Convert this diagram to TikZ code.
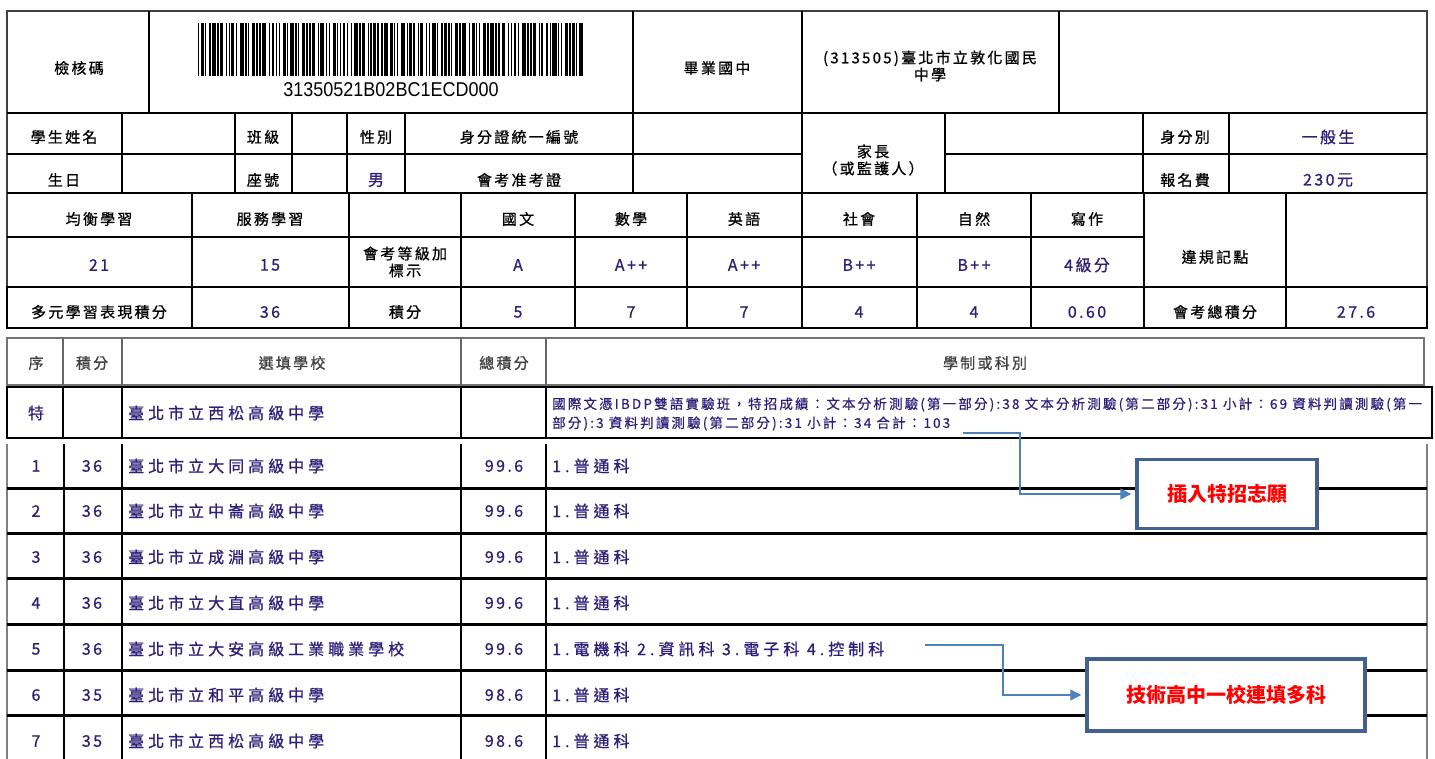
\documentclass[tikz,border=0pt]{standalone}
\usepackage{fontspec}
\usepackage{xcolor}
\usepackage{tikz}
\usetikzlibrary{arrows.meta}
\setmainfont{Noto Sans CJK TC}
\newfontfamily\cjk[LetterSpace=15,FakeBold=0.8]{Noto Sans CJK TC}
\newfontfamily\cjkrow[LetterSpace=25,FakeBold=0.8]{Noto Sans CJK TC}
\newfontfamily\cjknote[LetterSpace=16,FakeBold=0.5]{Noto Sans CJK TC}
\newfontfamily\barfont{Liberation Sans}
\definecolor{valblue}{HTML}{2C1F78}
\definecolor{hdrgray}{HTML}{404040}
\definecolor{calloutline}{HTML}{41618F}
\definecolor{arrowblue}{HTML}{4F81BD}

\begin{document}
\begin{tikzpicture}[x=1pt,y=-1pt]
		\tikzstyle{every node}=[inner sep=0pt, font=\cjk\fontsize{15}{17}\selectfont]
		\tikzstyle{val}=[text=valblue, font=\cjk\fontsize{16}{18}\selectfont]
		\tikzstyle{rowval}=[text=valblue, font=\cjkrow\fontsize{16}{18}\selectfont]
		\tikzstyle{hdr}=[text=hdrgray]
		\tikzstyle{rule}=[line width=1.2pt]
		\tikzstyle{heavyrule}=[line width=2.6pt]
		\tikzstyle{callout}=[draw=calloutline, line width=3.5pt, fill=white, text=red, font=\bfseries\fontsize{20}{22}\selectfont]
		\tikzstyle{pointer}=[draw=arrowblue, line width=1.4pt, shorten >=4pt, -{Triangle[length=11pt,width=11pt]}]

		\useasboundingbox (0,0) rectangle (1435,759);

		% upper table
		\draw [rule, draw=black!75] (7,11) rectangle (1427,328);
		\draw [rule] (7,113) to (1427,113);
		\draw [rule] (7,154) to (802,154);
		\draw [rule] (945,154) to (1427,154);
		\draw [heavyrule] (7,193) to (1427,193);
		\draw [rule] (7,237) to (1144,237);
		\draw [heavyrule] (7,287) to (1427,287);
		\draw [heavyrule] (7,328) to (1427,328);
		\draw [line width=2pt] (149,11) to (149,113);
		\draw [rule] (633,11) to (633,113);
		\draw [rule] (802,11) to (802,113);
		\draw [rule] (1059,11) to (1059,113);
		\draw [rule] (122,113) to (122,193);
		\draw [rule] (235,113) to (235,193);
		\draw [rule] (292,113) to (292,193);
		\draw [rule] (347,113) to (347,193);
		\draw [rule] (405,113) to (405,193);
		\draw [rule] (633,113) to (633,193);
		\draw [rule] (802,113) to (802,193);
		\draw [rule] (945,113) to (945,193);
		\draw [rule] (1143,113) to (1143,193);
		\draw [rule] (1229,113) to (1229,193);
		\draw [rule] (192,193) to (192,328);
		\draw [rule] (349,193) to (349,328);
		\draw [rule] (461,193) to (461,328);
		\draw [rule] (575,193) to (575,328);
		\draw [rule] (687,193) to (687,328);
		\draw [rule] (802,193) to (802,328);
		\draw [rule] (917,193) to (917,328);
		\draw [rule] (1031,193) to (1031,328);
		\draw [rule] (1144,193) to (1144,328);
		\draw [rule] (1286,193) to (1286,328);
		\draw [heavyrule] (7,287) rectangle (349,328);
		\draw [heavyrule] (1144,287) rectangle (1427,328);

		% barcode
		\def\barx{198}
		\foreach \w/\g in {1/1,2/1,1/2,1/1,3/1,1/1,2/2,1/1,1/1,2/1,1/2,3/1,1/1,1/2,2/1,1/1,1/1,3/2,1/1,2/1,1/1,1/2,2/1,1/1,3/1,1/1,1/2,2/1,1/1,1/1,2/2,1/1,3/1,1/1,1/2,2/1,1/1,1/1,2/1,1/2,1/1,3/1,1/1,2/2,1/1,1/1,2/1,1/2,1/1,3/1,2/1,1/1,1/2,3/1,1/1,2/1,1/2,1/1,2/2,1/1,1/1,3/1,1/2,1/1,2/1,1/1,1/2,2/1,1/1,3/2,1/1,2/1,1/1,1/2,2/1,1/1,3/1,1/1,1/2,2/2,1/1,1/1,2/1,1/2,3/1,1/1,1/1,2/2,1/1,1/2,2/1,1/1,3/1,1/1,1/2,2/1,1/1,2/1,1/1,3/1} {
			\fill (\barx,23) rectangle ++(1.39*\w,53);
			\pgfmathsetmacro\nextx{\barx+1.39*\w+1.39*\g}
			\global\let\barx\nextx
		}
		\node [font=\barfont\fontsize{20}{22}\selectfont, xscale=0.9] (barnum) at (391,90) {31350521B02BC1ECD000};

		% upper table texts
		\node (chk) at (79,68) {檢核碼};
		\node (grad) at (717,68) {畢業國中};
		\node [align=center] (jh) at (930,66) {(313505)臺北市立敦化國民\\中學};
		\node (name) at (64,137) {學生姓名};
		\node (cls) at (263,137) {班級};
		\node (sex) at (376,137) {性別};
		\node (idno) at (519,137) {身分證統一編號};
		\node [align=center] (guard) at (873,160) {家長\\（或監護人）};
		\node (idtype) at (1185,137) {身分別};
		\node [val] (idval) at (1328,137) {一般生};
		\node (bday) at (64,180) {生日};
		\node (seat) at (263,180) {座號};
		\node [val] (sexval) at (376,180) {男};
		\node (exno) at (519,180) {會考准考證};
		\node (fee) at (1185,180) {報名費};
		\node [val] (feeval) at (1328,180) {230元};
		\node (bal) at (99,219) {均衡學習};
		\node (serv) at (270,219) {服務學習};
		\node (chn) at (518,219) {國文};
		\node (math) at (631,219) {數學};
		\node (eng) at (744,219) {英語};
		\node (soc) at (859,219) {社會};
		\node (sci) at (974,219) {自然};
		\node (wri) at (1087,219) {寫作};
		\node (viol) at (1215,257) {違規記點};
		\node [val] (balval) at (99,265) {21};
		\node [val] (servval) at (270,265) {15};
		\node [align=center] (lvl) at (405,262) {會考等級加\\標示};
		\node [val] (chnval) at (518,265) {A};
		\node [val] (mathval) at (631,265) {A++};
		\node [val] (engval) at (744,265) {A++};
		\node [val] (socval) at (859,265) {B++};
		\node [val] (scival) at (974,265) {B++};
		\node [val] (wrival) at (1087,265) {4級分};
		\node (multi) at (99,312) {多元學習表現積分};
		\node [val] (multival) at (270,312) {36};
		\node (pts) at (405,312) {積分};
		\node [val] (chnpts) at (518,312) {5};
		\node [val] (mathpts) at (631,312) {7};
		\node [val] (engpts) at (744,312) {7};
		\node [val] (socpts) at (859,312) {4};
		\node [val] (scipts) at (974,312) {4};
		\node [val] (wripts) at (1087,312) {0.60};
		\node (total) at (1215,312) {會考總積分};
		\node [val] (totalval) at (1356,312) {27.6};

		% lower table
		\draw [rule, draw=black!55, line width=2pt] (7,338) rectangle (1424,385);
		\draw [rule, draw=black!60] (63,338) to (63,385);
		\draw [rule, draw=black!60] (122,338) to (122,385);
		\draw [rule, draw=black!60] (461,338) to (461,385);
		\draw [rule, draw=black!60] (546,338) to (546,385);
		\node [hdr] (hseq) at (36,363) {序};
		\node [hdr] (hpts) at (92,363) {積分};
		\node [hdr] (hsch) at (292,363) {選填學校};
		\node [hdr] (htot) at (504,363) {總積分};
		\node [hdr] (hdep) at (985,363) {學制或科別};

		\draw [heavyrule] (7,387) rectangle (1432,438);
		\draw [rule] (63,387) to (63,438);
		\draw [rule] (122,387) to (122,438);
		\draw [rule] (461,387) to (461,438);
		\draw [rule] (546,387) to (546,438);
		\node [val] (spseq) at (36,413) {特};
		\node [rowval, anchor=west] (spsch) at (128,413) {臺北市立西松高級中學};
		\node [anchor=west, text=valblue, align=left, font=\cjknote\fontsize{13.5}{19}\selectfont] (spdep) at (552,414) {國際文憑IBDP雙語實驗班，特招成績：文本分析測驗(第一部分):38 文本分析測驗(第二部分):31 小計：69 資料判讀測驗(第一\\部分):3 資料判讀測驗(第二部分):31 小計：34 合計：103};
		\coordinate (spend) at (963,433);

		\draw [rule, draw=black!50, line width=2pt] (7,444) to (7,759);
		\draw [rule] (64,444) to (64,759);
		\draw [rule] (122,444) to (122,759);
		\draw [rule] (461,444) to (461,759);
		\draw [rule] (546,444) to (546,759);
		\draw [rule, draw=black!50, line width=2pt] (1427,444) to (1427,759);
		\draw [heavyrule, line width=3pt] (7,488) to (1427,488);
		\draw [heavyrule, line width=3pt] (7,533) to (1427,533);
		\draw [heavyrule, line width=3pt] (7,578) to (1427,578);
		\draw [heavyrule, line width=3pt] (7,624) to (1427,624);
		\draw [heavyrule, line width=3pt] (7,670) to (1427,670);
		\draw [heavyrule, line width=3pt] (7,715) to (1427,715);

		\node [val] (seqa) at (36,466) {1};
		\node [val] (ptsa) at (92,466) {36};
		\node [rowval, anchor=west] (scha) at (128,466) {臺北市立大同高級中學};
		\node [val] (tota) at (504,466) {99.6};
		\node [rowval, anchor=west] (depa) at (552,466) {1.普通科};
		\node [val] (seqb) at (36,511) {2};
		\node [val] (ptsb) at (92,511) {36};
		\node [rowval, anchor=west] (schb) at (128,511) {臺北市立中崙高級中學};
		\node [val] (totb) at (504,511) {99.6};
		\node [rowval, anchor=west] (depb) at (552,511) {1.普通科};
		\node [val] (seqc) at (36,557) {3};
		\node [val] (ptsc) at (92,557) {36};
		\node [rowval, anchor=west] (schc) at (128,557) {臺北市立成淵高級中學};
		\node [val] (totc) at (504,557) {99.6};
		\node [rowval, anchor=west] (depc) at (552,557) {1.普通科};
		\node [val] (seqd) at (36,603) {4};
		\node [val] (ptsd) at (92,603) {36};
		\node [rowval, anchor=west] (schd) at (128,603) {臺北市立大直高級中學};
		\node [val] (totd) at (504,603) {99.6};
		\node [rowval, anchor=west] (depd) at (552,603) {1.普通科};
		\node [val] (seqe) at (36,649) {5};
		\node [val] (ptse) at (92,649) {36};
		\node [rowval, anchor=west] (sche) at (128,649) {臺北市立大安高級工業職業學校};
		\node [val] (tote) at (504,649) {99.6};
		\node [rowval, anchor=west] (depe) at (552,649) {1.電機科 2.資訊科 3.電子科 4.控制科};
		\coordinate (techend) at (925,645);
		\node [val] (seqf) at (36,695) {6};
		\node [val] (ptsf) at (92,695) {35};
		\node [rowval, anchor=west] (schf) at (128,695) {臺北市立和平高級中學};
		\node [val] (totf) at (504,695) {98.6};
		\node [rowval, anchor=west] (depf) at (552,695) {1.普通科};
		\node [val] (seqg) at (36,741) {7};
		\node [val] (ptsg) at (92,741) {35};
		\node [rowval, anchor=west] (schg) at (128,741) {臺北市立西松高級中學};
		\node [val] (totg) at (504,741) {98.6};
		\node [rowval, anchor=west] (depg) at (552,741) {1.普通科};

		% callouts
		\node [callout, minimum width=180pt, minimum height=69pt] (spbox) at (1227,494) {插入特招志願};
		\node [callout, minimum width=278pt, minimum height=72pt] (techbox) at (1226,695) {技術高中一校連填多科};
		\draw [pointer] (spend) -- ++(57,0) |- (spbox.west);
		\draw [pointer] (techend) -- ++(78,0) |- (techbox.west);

	\end{tikzpicture}
\end{document}
